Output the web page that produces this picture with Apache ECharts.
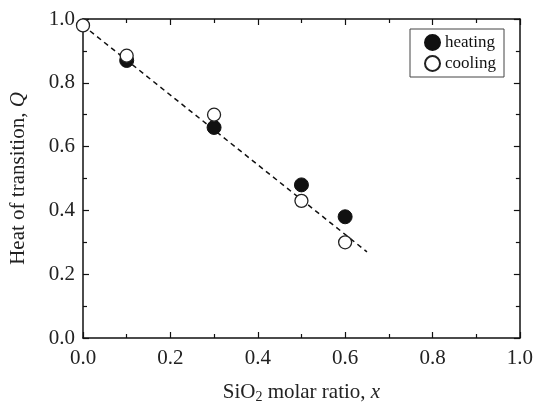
<!DOCTYPE html>
<html><head><meta charset="utf-8">
<script src="https://cdn.jsdelivr.net/npm/echarts@6/dist/echarts.min.js"></script>
<style>html,body{margin:0;padding:0;background:#fff}#c{width:536px;height:409px}</style>
</head><body><div id="c"></div>
<script>
const heatingX = [0.1, 0.3, 0.5, 0.6];
const heatingY = [0.87, 0.66, 0.48, 0.38];
const coolingX = [0.0, 0.1, 0.3, 0.5, 0.6];
const coolingY = [0.98, 0.885, 0.70, 0.43, 0.30];
const fitX = [0.0, 0.65];
const fitY = [0.98, 0.27];
const xTicks = [0, 0.2, 0.4, 0.6, 0.8, 1.0];
const yTicks = [0, 0.2, 0.4, 0.6, 0.8, 1.0];

const F = 'Liberation Serif';
const pair = (xs, ys) => xs.map((x, i) => [x, ys[i]]);
const chart = echarts.init(document.getElementById('c'), null, {renderer: 'canvas'});
const axBase = {
  type: 'value', min: 0, max: 1, interval: 0.2,
  axisLine: {show: true, onZero: false, lineStyle: {color: '#111', width: 1.5}},
  axisTick: {show: true, inside: true, length: 6, lineStyle: {color: '#111', width: 1.2}},
  minorTick: {show: true, splitNumber: 2, length: 4, lineStyle: {color: '#111', width: 1.2}},
  splitLine: {show: false}
};
chart.setOption({
  animation: false,
  grid: {left: 82, right: 13, top: 19, bottom: 62, containLabel: false},
  legend: {
    top: 29, right: 32, orient: 'vertical', itemWidth: 15, itemHeight: 15, itemGap: 4,
    padding: [5, 8, 5, 14],
    borderColor: '#444', borderWidth: 1,
    textStyle: {fontFamily: F, fontSize: 17, color: '#111'},
    data: ['heating', 'cooling']
  },
  xAxis: [
    Object.assign({}, axBase, {
      position: 'bottom',
      axisLabel: {fontFamily: F, fontSize: 21, color: '#222', margin: 10,
        formatter: v => xTicks.includes(+v.toFixed(1)) ? v.toFixed(1) : ''},
      name: '{n|SiO}{s|2}{n| molar ratio, }{i|x}', nameLocation: 'middle', nameGap: 42,
      nameTextStyle: {rich: {
        n: {fontFamily: F, fontSize: 21, color: '#222'},
        s: {fontFamily: F, fontSize: 14, color: '#222', verticalAlign: 'bottom', padding: [10, 0, 0, 0]},
        i: {fontFamily: F, fontSize: 21, fontStyle: 'italic', color: '#222'}
      }}
    }),
    Object.assign({}, axBase, {position: 'top', axisLabel: {show: false}})
  ],
  yAxis: [
    Object.assign({}, axBase, {
      position: 'left',
      axisLabel: {fontFamily: F, fontSize: 21, color: '#222', margin: 8,
        formatter: v => yTicks.includes(+v.toFixed(1)) ? v.toFixed(1) : ''},
      name: '{n|Heat of transition, }{i|Q}', nameLocation: 'middle', nameGap: 54,
      nameTextStyle: {rich: {
        n: {fontFamily: F, fontSize: 21, color: '#222'},
        i: {fontFamily: F, fontSize: 21, fontStyle: 'italic', color: '#222'}
      }}
    }),
    Object.assign({}, axBase, {position: 'right', axisLabel: {show: false}})
  ],
  series: [
    {name: 'fit', type: 'line', data: pair(fitX, fitY), symbol: 'none', z: 1,
     lineStyle: {color: '#111', width: 1.5, type: [5, 4]}},
    {name: 'heating', type: 'scatter', data: pair(heatingX, heatingY), symbol: 'circle', symbolSize: 14, z: 3,
     itemStyle: {color: '#111', borderColor: '#111', borderWidth: 1, opacity: 1}},
    {name: 'cooling', type: 'scatter', data: pair(coolingX, coolingY), symbol: 'circle', symbolSize: 13, z: 4,
     itemStyle: {color: '#fff', borderColor: '#222', borderWidth: 1.3, opacity: 1}}
  ]
});
</script></body></html>
